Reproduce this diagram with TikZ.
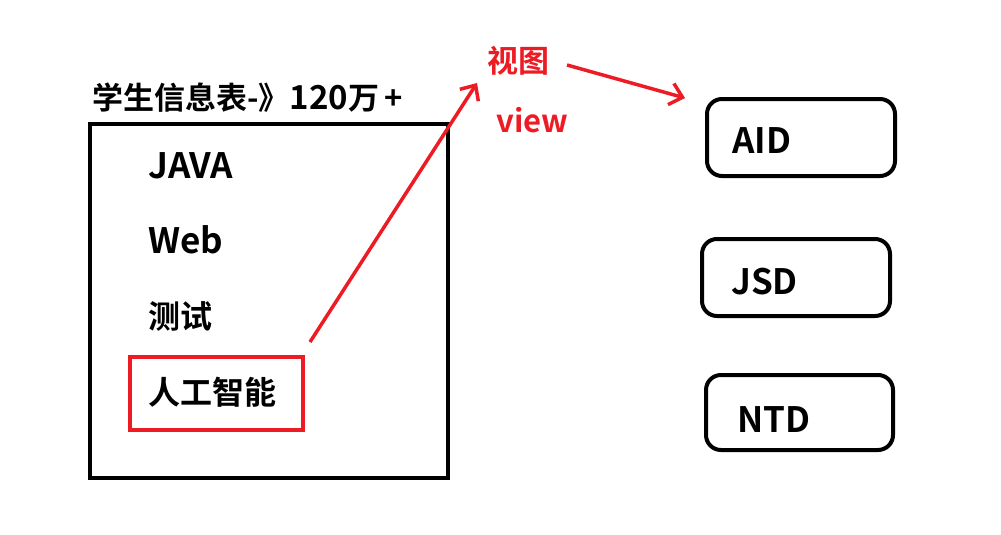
\documentclass[tikz,border=0pt]{standalone}
\usepackage{fontspec}
\setmainfont{Noto Sans CJK SC}[BoldFont={Noto Sans CJK SC Bold}]
\usetikzlibrary{arrows.meta}
\definecolor{myred}{RGB}{237,28,36}
\tikzset{
  x=1pt, y=-1pt,
  frame/.style={draw=black, line width=4.5pt, inner sep=0pt},
  hl/.style={draw=myred, line width=4pt, inner sep=0pt},
  rbox/.style={draw=black, line width=4pt, rounded corners=15pt, inner sep=0pt},
  item/.style={anchor=base west, inner sep=0pt, font=\fontsize{32}{32}\selectfont\bfseries},
  latin/.style={anchor=base west, inner sep=0pt, font=\fontsize{35}{35}\selectfont\bfseries},
  title/.style={anchor=base west, inner sep=0pt, font=\fontsize{31}{31}\selectfont\bfseries},
  lbl/.style={anchor=base west, inner sep=0pt, text=myred, font=\fontsize{31}{31}\selectfont\bfseries},
  redarrow/.style={draw=myred, line width=3.5pt, -{Straight Barb[length=12pt,width=22pt,line width=3.5pt]}}
}
\begin{document}
\begin{tikzpicture}
\useasboundingbox (0,0) rectangle (1001,535);
\node[frame, minimum width=358pt, minimum height=354pt] (frm) at (269,301) {};
\node[title] (t) at (92,110) {学生信息表-》{\fontsize{33}{33}\selectfont 120}万\kern5pt+};
\node[latin] (java) at (148,178) {JAVA};
\node[latin] (web) at (148,253) {Web};
\node[item] (test) at (148,328) {测试};
\node[item] (ai) at (148,404) {人工智能};
\node[hl, minimum width=173pt, minimum height=73pt] (aibox) at (216.5,393.5) {};
\node[lbl] (st) at (487,72) {视图};
\node[lbl] (view) at (496,132) {view};
\coordinate (a1s) at (310,342);
\coordinate (a1e) at (477,83);
\coordinate (a2s) at (567,65);
\coordinate (a2e) at (685,98);
\draw[redarrow] (a1s) -- (a1e);
\draw[redarrow] (a2s) -- (a2e);
\node[rbox, minimum width=188pt, minimum height=77pt] (aid) at (801,137.5) {};
\node[latin] (aidt) at (732,153) {AID};
\node[rbox, minimum width=188pt, minimum height=77pt] (jsd) at (796,277.5) {};
\node[latin] (jsdt) at (731,294) {JSD};
\node[rbox, minimum width=187pt, minimum height=75pt] (ntd) at (799.5,412.5) {};
\node[latin] (ntdt) at (737,432) {NTD};
\end{tikzpicture}
\end{document}
